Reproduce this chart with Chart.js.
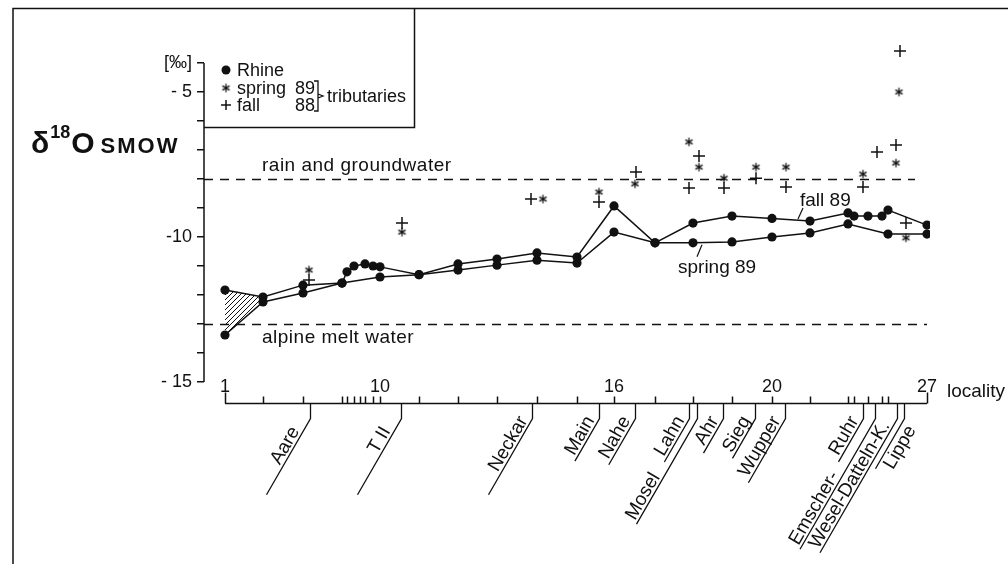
<!DOCTYPE html>
<html><head><meta charset="utf-8">
<script src="https://cdn.jsdelivr.net/npm/chart.js@4.4.0/dist/chart.umd.min.js"></script>
<style>html,body{margin:0;padding:0;background:#fff}#wrap{position:relative;width:1008px;height:564px}</style>
</head><body><div id="wrap"><canvas id="c"></canvas></div>
<script>
// ---- data ----
const localityNumbers = [1,2,3,4,5,6,7,8,9,10,11,12,13,14,15,16,17,18,19,20,21,22,23,24,25,26,27];
const localityDist = [0,38,78,117,122,129,135,140,148,155,194,233,272,312,352,389,430,468,507,547,585,623,629,643,657,663,702];
const labeledLocalities = [1,10,16,20,27];

const fall89Loc = [1,2,3,4,5,6,8,9,10,11,12,13,14,15,16,17,18,19,20,21,22,23,24,25,26,27];
const fall89Val = [-11.83,-12.07,-11.66,-11.59,-11.2,-11.0,-10.93,-11.0,-11.03,-11.3,-10.93,-10.76,-10.55,-10.69,-8.93,-10.2,-9.52,-9.28,-9.36,-9.45,-9.17,-9.28,-9.28,-9.28,-9.07,-9.59];
const spring89Loc = [1,2,3,4,10,11,12,13,14,15,16,17,18,19,20,21,22,26,27];
const spring89Val = [-13.38,-12.24,-11.93,-11.59,-11.38,-11.3,-11.14,-10.97,-10.8,-10.9,-9.83,-10.2,-10.2,-10.17,-10.0,-9.86,-9.55,-9.9,-9.9];

const tributaryNames = ['Aare','T II','Neckar','Main','Nahe','Lahn','Mosel','Ahr','Sieg','Wupper','Ruhr','Emscher-','Wesel-Datteln-K.','Lippe'];
const tributaryDist = [85,176,307,374,410,464,472,498,530,560,638,650,672,679];

const tribSpring89Dist = [84,177,318,374,410,464,474,499,531,561,638,671,674,681];
const tribSpring89Val  = [-11.14,-9.83,-8.69,-8.45,-8.17,-6.72,-7.59,-7.97,-7.59,-7.59,-7.83,-7.45,-5.0,-10.03];
const tribFall88Dist = [84,177,306,374,411,464,474,499,531,561,638,652,671,675,681];
const tribFall88Val  = [-11.48,-9.52,-8.69,-8.79,-7.76,-8.31,-7.21,-8.31,-7.97,-8.28,-8.28,-7.07,-6.83,-3.59,-9.52];

const referenceLevels = [-8, -13];
const referenceLabels = ['rain and groundwater', 'alpine melt water'];
const referenceEndDist = [690, 702];

const yTickValues = [-4, -5, -10, -15];
const yTickTexts = ['[‰]', '- 5', '-10', '- 15'];
const yAxisTop = -4, yAxisBottom = -15;

// ---- styling ----
const FONT = '"Liberation Sans", Arial, Helvetica, sans-serif';
const INK = '#111';
const tributaryLead = [88, 88, 88, 48, 50, 46, 122, 40, 46, 72, 50, 151, 155, 58];
const tributaryTextGap = [16, 16, 4, 4, 4, 4, 0, 4, 4, 4, 4, 0, 0, 4];
const tributaryTextFar = [false,false,false,false,false,false,true,false,false,false,false,true,true,false];
const tributaryTextBelow = [false,false,false,false,false,false,false,false,false,false,false,false,false,true];

function asteriskCanvas(r, lw) {
  const s = Math.ceil(2 * r + 4);
  const c = document.createElement('canvas'); c.width = s; c.height = s;
  const g = c.getContext('2d'); g.strokeStyle = INK; g.lineWidth = lw;
  g.translate(s / 2, s / 2);
  for (let k = 0; k < 3; k++) {
    const a = Math.PI / 2 + k * Math.PI / 3;
    g.beginPath(); g.moveTo(r * Math.cos(a), r * Math.sin(a)); g.lineTo(-r * Math.cos(a), -r * Math.sin(a)); g.stroke();
  }
  return c;
}
const ASTERISK = asteriskCanvas(4.2, 1.3);

function hatch(ctx) {
  const c = document.createElement('canvas'); c.width = 5; c.height = 5;
  const g = c.getContext('2d'); g.strokeStyle = INK; g.lineWidth = 1;
  g.beginPath(); g.moveTo(0, 5); g.lineTo(5, 0); g.moveTo(-1, 1); g.lineTo(1, -1); g.moveTo(4, 6); g.lineTo(6, 4); g.stroke();
  return ctx.createPattern(c, 'repeat');
}

const toPts = (locs, vals) => locs.map((l, i) => ({ x: localityDist[l - 1], y: vals[i] }));
const toPtsD = (ds, vals) => ds.map((d, i) => ({ x: d, y: vals[i] }));

const decor = {
  id: 'decor',
  beforeDatasetsDraw(chart) {
    const { ctx, scales: { x, y }, chartArea: ca } = chart;
    ctx.save();
    ctx.strokeStyle = INK; ctx.lineWidth = 1.5;
    ctx.beginPath(); ctx.moveTo(ca.left, y.getPixelForValue(yAxisTop)); ctx.lineTo(ca.left, y.getPixelForValue(yAxisBottom)); ctx.stroke();
    ctx.lineWidth = 1.4; ctx.setLineDash([9, 7]);
    referenceLevels.forEach((lv, i) => {
      const py = Math.round(y.getPixelForValue(lv)) + 0.5;
      ctx.beginPath(); ctx.moveTo(ca.left, py); ctx.lineTo(x.getPixelForValue(referenceEndDist[i]), py); ctx.stroke();
    });
    ctx.setLineDash([]);
    ctx.beginPath();
    ctx.moveTo(x.getPixelForValue(localityDist[fall89Loc[0] - 1]), y.getPixelForValue(fall89Val[0]));
    ctx.lineTo(x.getPixelForValue(localityDist[fall89Loc[1] - 1]), y.getPixelForValue(fall89Val[1]));
    ctx.lineTo(x.getPixelForValue(localityDist[spring89Loc[1] - 1]), y.getPixelForValue(spring89Val[1]));
    ctx.lineTo(x.getPixelForValue(localityDist[spring89Loc[0] - 1]), y.getPixelForValue(spring89Val[0]));
    ctx.closePath();
    ctx.fillStyle = hatch(ctx); ctx.fill();
    ctx.restore();
  },
  afterDraw(chart) {
    const { ctx, scales: { x, y }, chartArea: ca } = chart;
    ctx.save();
    ctx.strokeStyle = INK; ctx.fillStyle = INK; ctx.lineWidth = 1.5;
    const boxR = 414.5, boxB = 127.5;
    ctx.beginPath();
    ctx.moveTo(13, 564); ctx.lineTo(13, 8.5); ctx.lineTo(1008, 8.5);
    ctx.moveTo(boxR, 8.5); ctx.lineTo(boxR, boxB); ctx.lineTo(ca.left, boxB);
    ctx.stroke();

    // x axis (locality)
    const axisY = Math.round(ca.bottom + 21) + 0.5;
    const xp = d => x.getPixelForValue(d);
    ctx.beginPath();
    ctx.moveTo(xp(localityDist[0]), axisY); ctx.lineTo(xp(localityDist[localityDist.length - 1]), axisY);
    localityDist.forEach((d, i) => {
      const end = i === 0 || i === localityDist.length - 1;
      const px = Math.round(xp(d)) + 0.5;
      ctx.moveTo(px, axisY); ctx.lineTo(px, axisY - (end ? 11 : 7));
    });
    ctx.stroke();
    ctx.font = `18px ${FONT}`; ctx.textAlign = 'center'; ctx.textBaseline = 'alphabetic';
    labeledLocalities.forEach(n => {
      ctx.fillText(String(n), xp(localityDist[localityNumbers.indexOf(n)]), axisY - 12);
    });
    ctx.font = `19px ${FONT}`; ctx.textAlign = 'left';
    ctx.fillText('locality', xp(localityDist[localityDist.length - 1]) + 20, axisY - 7);

    // tributary labels
    const ang = 60 * Math.PI / 180;
    ctx.font = `19px ${FONT}`;
    ctx.lineWidth = 1.3;
    tributaryNames.forEach((name, i) => {
      const px = Math.round(xp(tributaryDist[i])) + 0.5;
      const y0 = axisY + 15;
      const tw = ctx.measureText(name).width;
      const L = Math.max(tributaryLead[i], tw + 8);
      const fx = px - L * Math.cos(ang), fy = y0 + L * Math.sin(ang);
      ctx.beginPath(); ctx.moveTo(px, axisY); ctx.lineTo(px, y0); ctx.lineTo(fx, fy); ctx.stroke();
      ctx.save();
      ctx.translate(fx, fy); ctx.rotate(-ang);
      ctx.textAlign = 'left';
      const s = tributaryTextFar[i] ? 2 : L - tw - tributaryTextGap[i];
      ctx.fillText(name, s, tributaryTextBelow[i] ? 16 : -3);
      ctx.restore();
    });

    // reference labels
    ctx.font = `19px ${FONT}`; ctx.textAlign = 'left';
    ctx.letterSpacing = '0.5px';
    ctx.fillText(referenceLabels[0], xp(localityDist[0]) + 37, y.getPixelForValue(referenceLevels[0]) - 8);
    ctx.fillText(referenceLabels[1], xp(localityDist[0]) + 37, y.getPixelForValue(referenceLevels[1]) + 19);
    ctx.letterSpacing = '0px';

    // series labels
    const fa = { x: xp(localityDist[20]), y: y.getPixelForValue(fall89Val[fall89Loc.indexOf(21)]) };
    ctx.lineWidth = 1.2;
    ctx.beginPath(); ctx.moveTo(fa.x - 7, fa.y - 13); ctx.lineTo(fa.x - 12, fa.y - 2); ctx.stroke();
    ctx.fillText('fall 89', fa.x - 10, fa.y - 15);
    const sa = { x: xp(localityDist[17]), y: y.getPixelForValue(spring89Val[spring89Loc.indexOf(18)]) };
    ctx.beginPath(); ctx.moveTo(sa.x + 9, sa.y + 2); ctx.lineTo(sa.x + 4, sa.y + 14); ctx.stroke();
    ctx.fillText('spring 89', sa.x - 15, sa.y + 30);

    // legend
    const lx = ca.left + 22;
    ctx.font = `18px ${FONT}`;
    ctx.beginPath(); ctx.arc(lx, 70, 4.5, 0, Math.PI * 2); ctx.fill();
    ctx.fillText('Rhine', lx + 11, 76);
    ctx.drawImage(ASTERISK, lx - ASTERISK.width / 2, 88 - ASTERISK.height / 2);
    ctx.fillText('spring', lx + 11, 94);
    ctx.fillText('89', lx + 69, 94);
    ctx.lineWidth = 1.5;
    ctx.beginPath(); ctx.moveTo(lx - 5, 105); ctx.lineTo(lx + 5, 105); ctx.moveTo(lx, 100); ctx.lineTo(lx, 110); ctx.stroke();
    ctx.fillText('fall', lx + 11, 111);
    ctx.fillText('88', lx + 69, 111);
    const bx = lx + 92;
    ctx.lineWidth = 1.3;
    ctx.beginPath();
    ctx.moveTo(bx - 4, 81); ctx.lineTo(bx, 81); ctx.lineTo(bx, 111); ctx.lineTo(bx - 4, 111);
    ctx.moveTo(bx, 94); ctx.lineTo(bx + 5, 96); ctx.lineTo(bx, 98);
    ctx.stroke();
    ctx.fillText('tributaries', bx + 9, 102);

    // title  δ18O SMOW
    ctx.textAlign = 'left';
    let tx = 31; const tb = 153;
    ctx.font = `bold 30px ${FONT}`; ctx.fillText('δ', tx, tb); tx += ctx.measureText('δ').width + 1;
    ctx.font = `bold 18px ${FONT}`; ctx.fillText('18', tx, tb - 15); tx += ctx.measureText('18').width + 1;
    ctx.font = `bold 30px ${FONT}`; ctx.fillText('O', tx, tb); tx += ctx.measureText('O').width + 6;
    ctx.font = `bold 22px ${FONT}`; ctx.letterSpacing = '2px'; ctx.fillText('SMOW', tx, tb); ctx.letterSpacing = '0px';
    ctx.restore();
  }
};

new Chart(document.getElementById('c'), {
  type: 'scatter',
  data: {
    datasets: [
      { label: 'Rhine fall 89', data: toPts(fall89Loc, fall89Val), showLine: true, borderColor: INK, borderWidth: 1.5,
        pointRadius: 4.6, pointBackgroundColor: INK, pointBorderWidth: 0 },
      { label: 'Rhine spring 89', data: toPts(spring89Loc, spring89Val), showLine: true, borderColor: INK, borderWidth: 1.5,
        pointRadius: 4.6, pointBackgroundColor: INK, pointBorderWidth: 0 },
      { label: 'tributaries spring 89', data: toPtsD(tribSpring89Dist, tribSpring89Val), pointStyle: ASTERISK, clip: false },
      { label: 'tributaries fall 88', data: toPtsD(tribFall88Dist, tribFall88Val), pointStyle: 'cross', pointRadius: 6,
        borderColor: INK, pointBorderWidth: 1.5, clip: false }
    ]
  },
  options: {
    responsive: true, maintainAspectRatio: false, animation: false,
    layout: { padding: { left: 0, top: 34, right: 78, bottom: 182 } },
    plugins: { legend: { display: false }, tooltip: { enabled: false } },
    scales: {
      x: { type: 'linear', display: false, min: -21, max: 705 },
      y: {
        min: -15, max: -3,
        ticks: { stepSize: 1, autoSkip: false, color: INK, padding: 5,
          font: { family: FONT, size: 18 },
          callback: v => { if (v > yAxisTop) return null; const k = yTickValues.indexOf(v); return k >= 0 ? yTickTexts[k] : ''; } },
        grid: { drawOnChartArea: false, drawTicks: true, tickLength: 7, color: INK, lineWidth: 1.5 },
        border: { display: false },
        afterFit: s => { s.width = 204; }
      }
    }
  },
  plugins: [decor]
});
</script>
</body></html>
